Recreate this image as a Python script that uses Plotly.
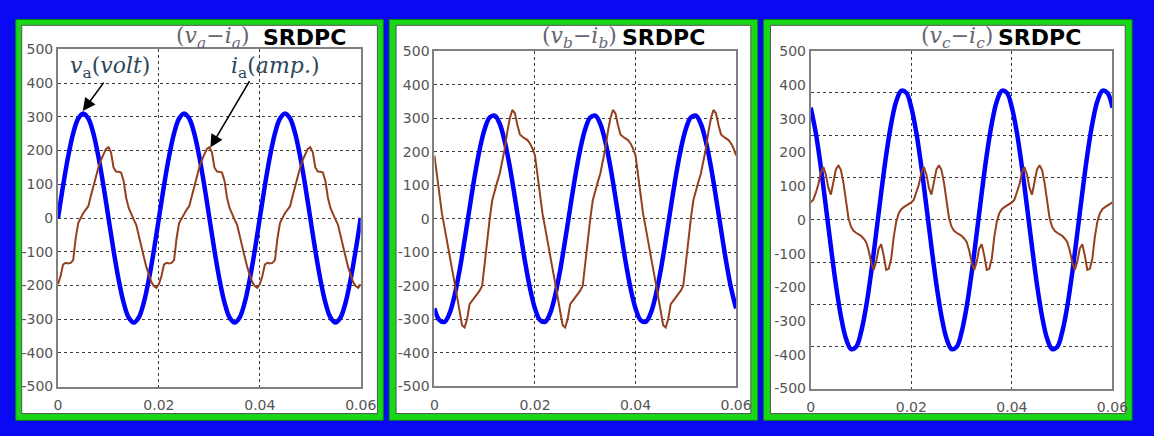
import numpy as np
import plotly.graph_objs as go

# time bases (s)
t_v = np.linspace(0, 0.06, 61)
t_i = np.linspace(0, 0.06, 121)

# phase a
va = [0, 96, 182, 251, 295, 310, 295, 251, 182, 96, 0, -96, -182, -251, -295, -310, -295, -251, -182, -96,
      0, 96, 182, 251, 295, 310, 295, 251, 182, 96, 0, -96, -182, -251, -295, -310, -295, -251, -182, -96,
      0, 96, 182, 251, 295, 310, 295, 251, 182, 96, 0, -96, -182, -251, -295, -310, -295, -251, -182, -96,
      0]
ia = [-196, -172, -138, -133, -135, -133, -125, -60, -15, 0, 15, 25, 35, 65, 95, 125, 150, 172, 190, 205,
      210, 195, 150, 138, 137, 135, 110, 60, 30, 10, -5, -20, -55, -85, -115, -145, -170, -190, -202, -207,
      -196, -172, -138, -133, -135, -133, -125, -60, -15, 0, 15, 25, 35, 65, 95, 125, 150, 172, 190, 205,
      210, 195, 150, 138, 137, 135, 110, 60, 30, 10, -5, -20, -55, -85, -115, -145, -170, -190, -202, -207,
      -196, -172, -138, -133, -135, -133, -125, -60, -15, 0, 15, 25, 35, 65, 95, 125, 150, 172, 190, 205,
      210, 195, 150, 138, 137, 135, 110, 60, 30, 10, -5, -20, -55, -85, -115, -145, -170, -190, -202, -207,
      -196]

# phase b
vb = [-268, -303, -308, -283, -230, -155, -64, 32, 126, 207, 268, 303, 308, 283, 230, 155, 64, -32, -126, -207,
      -268, -303, -308, -283, -230, -155, -64, 32, 126, 207, 268, 303, 308, 283, 230, 155, 64, -32, -126, -207,
      -268, -303, -308, -283, -230, -155, -64, 32, 126, 207, 268, 303, 308, 283, 230, 155, 64, -32, -126, -207,
      -268]
ib = [189, 130, 65, 15, -25, -70, -110, -150, -190, -235, -285, -318, -325, -300, -255, -245, -236, -228, -215, -200,
      -130, -60, 0, 55, 85, 110, 135, 170, 210, 260, 300, 325, 315, 280, 252, 245, 240, 235, 225, 210,
      189, 130, 65, 15, -25, -70, -110, -150, -190, -235, -285, -318, -325, -300, -255, -245, -236, -228, -215, -200,
      -130, -60, 0, 55, 85, 110, 135, 170, 210, 260, 300, 325, 315, 280, 252, 245, 240, 235, 225, 210,
      189, 130, 65, 15, -25, -70, -110, -150, -190, -235, -285, -318, -325, -300, -255, -245, -236, -228, -215, -200,
      -130, -60, 0, 55, 85, 110, 135, 170, 210, 260, 300, 325, 315, 280, 252, 245, 240, 235, 225, 210,
      189]

# phase c
vc = [333, 258, 157, 40, -80, -193, -286, -352, -383, -377, -333, -258, -157, -40, 80, 193, 286, 352, 383, 377,
      333, 258, 157, 40, -80, -193, -286, -352, -383, -377, -333, -258, -157, -40, 80, 193, 286, 352, 383, 377,
      333, 258, 157, 40, -80, -193, -286, -352, -383, -377, -333, -258, -157, -40, 80, 193, 286, 352, 383, 377,
      333]
ic = [52, 60, 80, 105, 140, 157, 135, 95, 75, 115, 150, 162, 148, 110, 50, 5, -20, -32, -38, -42,
      -47, -55, -65, -90, -125, -148, -125, -85, -72, -105, -148, -145, -115, -50, -5, 20, 32, 38, 42, 47,
      52, 60, 80, 105, 140, 157, 135, 95, 75, 115, 150, 162, 148, 110, 50, 5, -20, -32, -38, -42,
      -47, -55, -65, -90, -125, -148, -125, -85, -72, -105, -148, -145, -115, -50, -5, 20, 32, 38, 42, 47,
      52, 60, 80, 105, 140, 157, 135, 95, 75, 115, 150, 162, 148, 110, 50, 5, -20, -32, -38, -42,
      -47, -55, -65, -90, -125, -148, -125, -85, -72, -105, -148, -145, -115, -50, -5, 20, 32, 38, 42, 47,
      52]

x_ticks = [0, 0.02, 0.04, 0.06]
x_labels = ["0", "0.02", "0.04", "0.06"]
y_ticks = [-500, -400, -300, -200, -100, 0, 100, 200, 300, 400, 500]
y_labels = ["-500", "-400", "-300", "-200", "-100", "0", "100", "200", "300", "400", "500"]
c_grid_ticks = [-300, -200, -100, 0, 100, 200, 300]
phases = ["a", "b", "c"]

W, H = 1154, 436
BLUE = "#0000ff"
BROWN = "#94401e"


def px(x):
    return x / W


def py(y):
    return 1 - y / H


fig = go.Figure()
volts = [va, vb, vc]
amps = [ia, ib, ic]
for n in range(3):
    xa = "x" if n == 0 else f"x{n + 1}"
    ya = "y" if n == 0 else f"y{n + 1}"
    fig.add_trace(go.Scatter(x=t_v, y=volts[n], mode="lines", line=dict(color=BLUE, width=4.5, shape="spline"),
                             xaxis=xa, yaxis=ya, showlegend=False))
    fig.add_trace(go.Scatter(x=t_i, y=amps[n], mode="lines", line=dict(color=BROWN, width=2),
                             xaxis=xa, yaxis=ya, showlegend=False))
# empty trace so the grid-only axis of panel 3 is drawn
fig.add_trace(go.Scatter(x=[], y=[], xaxis="x3", yaxis="y4", showlegend=False))

axis_font = dict(family="DejaVu Sans", size=14, color="#555555")
x_domains = [(55, 363), (438, 745), (821, 1128)]
y_domains = [(43, 393), (45, 392.5), (45, 395)]

layout = dict(
    width=W, height=H, autosize=False,
    margin=dict(l=0, r=0, t=0, b=0),
    paper_bgcolor="#0a0af2", plot_bgcolor="white",
    showlegend=False,
)
for n in range(3):
    sx = "" if n == 0 else str(n + 1)
    xd, yd = x_domains[n], y_domains[n]
    layout["xaxis" + sx] = dict(
        domain=[px(xd[0]), px(xd[1])], range=[0, 0.06], anchor="y" + sx,
        tickvals=x_ticks, ticktext=x_labels, tickfont=axis_font, ticks="", ticklabelstandoff=5,
        showgrid=True, gridcolor="#3c3c3c", gridwidth=1.3, griddash="dot",
        zeroline=False, showline=True, linecolor="#808080", linewidth=2, mirror=True,
    )
    layout["yaxis" + sx] = dict(
        domain=[py(yd[1]), py(yd[0])], range=[-500, 500], anchor="x" + sx,
        tickvals=y_ticks, ticktext=y_labels, tickfont=axis_font, ticks="",
        showgrid=(n != 2), gridcolor="#3c3c3c", gridwidth=1.3, griddash="dot",
        zeroline=False, showline=True, linecolor="#808080", linewidth=2, mirror=True,
    )
# panel 3 grid lines do not line up with its tick labels
layout["yaxis4"] = dict(
    domain=[py(y_domains[2][1]), py(y_domains[2][0])], range=[-398, 398], anchor="x3", overlaying="y3",
    tickvals=c_grid_ticks, showticklabels=False, ticks="",
    showgrid=True, gridcolor="#3c3c3c", gridwidth=1.3, griddash="dot",
    zeroline=False, showline=False,
)
fig.update_layout(**layout)

# green frames and white panels
frames = [(12, 386, 18, 380), (392, 767, 399, 760), (773, 1148, 780, 1141)]
for g0, g1, w0, w1 in frames:
    fig.add_shape(type="rect", xref="paper", yref="paper", x0=px(g0), x1=px(g1), y0=py(428), y1=py(12),
                  fillcolor="#18d818", line=dict(color="#0a8a0a", width=1), layer="below")
    fig.add_shape(type="rect", xref="paper", yref="paper", x0=px(w0), x1=px(w1), y0=py(421), y1=py(18),
                  fillcolor="white", line=dict(color="#555555", width=1), layer="below")

# panel titles
title_pos = [(173, 262), (545, 627), (931, 1010)]
for n, (fx, sx) in enumerate(title_pos):
    p = phases[n]
    fig.add_annotation(xref="paper", yref="paper", x=px(fx), y=py(31), xanchor="left", yanchor="middle",
                       text=f"(<i>v</i><sub><i>{p}</i></sub>−<i>i</i><sub><i>{p}</i></sub>)",
                       showarrow=False, font=dict(family="DejaVu Serif", size=22, color="#6a6470"))
    fig.add_annotation(xref="paper", yref="paper", x=px(sx), y=py(31), xanchor="left", yanchor="middle",
                       text="<b>SRDPC</b>", showarrow=False,
                       font=dict(family="DejaVu Sans", size=22, color="black"))

# labels with arrows in panel 1
lab_font = dict(family="DejaVu Serif", size=22, color="#2e4658")
fig.add_annotation(xref="paper", yref="paper", x=px(65), y=py(62), xanchor="left", yanchor="middle",
                   text="<i>v</i><sub>a</sub>(<i>volt</i>)", showarrow=False, font=lab_font)
fig.add_annotation(xref="paper", yref="paper", x=px(229), y=py(62), xanchor="left", yanchor="middle",
                   text="<i>i</i><sub>a</sub>(<i>amp.</i>)", showarrow=False, font=lab_font)
fig.add_annotation(xref="x", yref="y", x=0.0049, y=317, ax=22, ay=-30, text="", showarrow=True,
                   arrowhead=2, arrowsize=1.6, arrowwidth=1.6, arrowcolor="black")
fig.add_annotation(xref="x", yref="y", x=0.0302, y=209, ax=40, ay=-68, text="", showarrow=True,
                   arrowhead=2, arrowsize=1.6, arrowwidth=1.6, arrowcolor="black")

fig.write_html("out.html", config={"displayModeBar": False},
               post_script="document.body.style.margin='0';document.body.style.overflow='hidden';")
